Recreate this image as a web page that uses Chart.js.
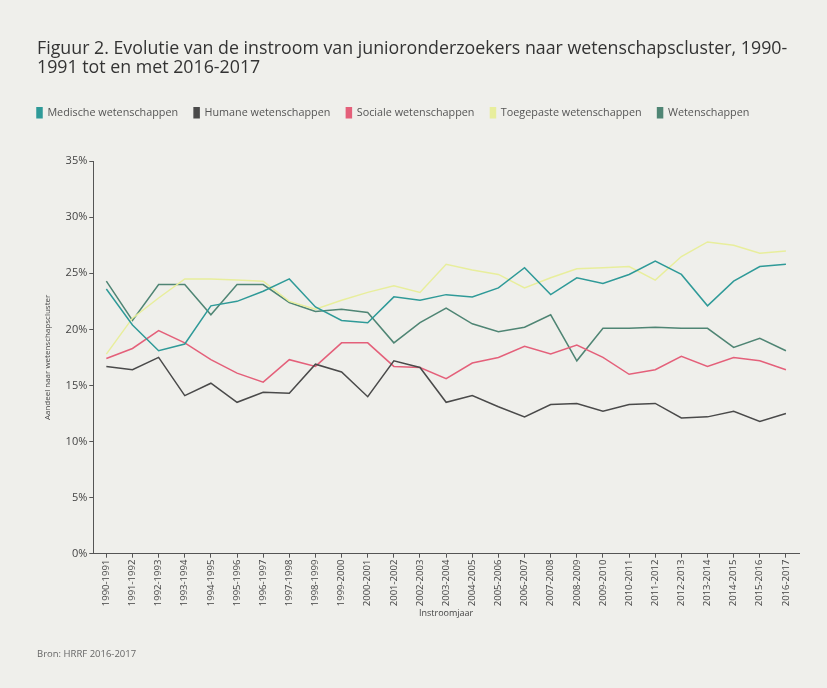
<!DOCTYPE html>
<html>
<head>
<meta charset="utf-8">
<script src="https://cdn.jsdelivr.net/npm/chart.js@4.4.0/dist/chart.umd.min.js"></script>
<style>
  html, body { margin: 0; padding: 0; background: #efefeb; }
  #wrap { position: relative; width: 827px; height: 688px; }
  #source {
    position: absolute; left: 37px; top: 647px;
    font-family: "Open Sans", sans-serif; font-size: 9.5px; color: #666;
  }
</style>
</head>
<body>
<div id="wrap">
  <canvas id="chart" width="827" height="688"></canvas>
  <div id="source">Bron: HRRF 2016-2017</div>
</div>
<script>
// Categories (academic years)
const years = [
  '1990-1991', '1991-1992', '1992-1993', '1993-1994', '1994-1995', '1995-1996',
  '1996-1997', '1997-1998', '1998-1999', '1999-2000', '2000-2001', '2001-2002',
  '2002-2003', '2003-2004', '2004-2005', '2005-2006', '2006-2007', '2007-2008',
  '2008-2009', '2009-2010', '2010-2011', '2011-2012', '2012-2013', '2013-2014',
  '2014-2015', '2015-2016', '2016-2017'
];

// Share per science cluster (%)
const medische = [23.6, 20.4, 18.1, 18.7, 22.1, 22.5, 23.4, 24.5, 22.0, 20.8, 20.6, 22.9, 22.6, 23.1, 22.9, 23.7, 25.5, 23.1, 24.6, 24.1, 24.9, 26.1, 24.9, 22.1, 24.3, 25.6, 25.8];
const humane = [16.7, 16.4, 17.5, 14.1, 15.2, 13.5, 14.4, 14.3, 16.9, 16.2, 14.0, 17.2, 16.6, 13.5, 14.1, 13.1, 12.2, 13.3, 13.4, 12.7, 13.3, 13.4, 12.1, 12.2, 12.7, 11.8, 12.5];
const sociale = [17.4, 18.3, 19.9, 18.8, 17.3, 16.1, 15.3, 17.3, 16.7, 18.8, 18.8, 16.7, 16.6, 15.6, 17.0, 17.5, 18.5, 17.8, 18.6, 17.5, 16.0, 16.4, 17.6, 16.7, 17.5, 17.2, 16.4];
const toegepaste = [17.8, 21.0, 22.8, 24.5, 24.5, 24.4, 24.3, 22.5, 21.8, 22.6, 23.3, 23.9, 23.3, 25.8, 25.3, 24.9, 23.7, 24.6, 25.4, 25.5, 25.6, 24.4, 26.5, 27.8, 27.5, 26.8, 27.0];
const wetenschappen = [24.3, 20.8, 24.0, 24.0, 21.3, 24.0, 24.0, 22.4, 21.6, 21.8, 21.5, 18.8, 20.6, 21.9, 20.5, 19.8, 20.2, 21.3, 17.2, 20.1, 20.1, 20.2, 20.1, 20.1, 18.4, 19.2, 18.1];

// Y axis ticks
const yTicks = [0, 5, 10, 15, 20, 25, 30, 35];

const fontFamily = '"Open Sans", sans-serif';

function makeSet(label, data, color) {
  return {
    label: label,
    data: data,
    borderColor: color,
    backgroundColor: color,
    borderWidth: 1.5,
    pointRadius: 0,
    tension: 0,
    fill: false
  };
}

// move the legend up/left: it sits right under the title, with a gap before the plot
const shiftLegend = {
  id: 'shiftLegend',
  afterLayout(chart) {
    chart.legend.left -= 16;
    chart.legend.top -= 33;
  }
};

const ctx = document.getElementById('chart').getContext('2d');
new Chart(ctx, {
  type: 'line',
  data: {
    labels: years,
    datasets: [
      makeSet('Medische wetenschappen', medische, '#2f9a98'),
      makeSet('Humane wetenschappen', humane, '#4a4a4a'),
      makeSet('Sociale wetenschappen', sociale, '#e4607a'),
      makeSet('Toegepaste wetenschappen', toegepaste, '#e8ee9c'),
      makeSet('Wetenschappen', wetenschappen, '#4f8574')
    ]
  },
  plugins: [shiftLegend],
  options: {
    responsive: false,
    animation: false,
    layout: { padding: { left: 37, right: 28, top: 40, bottom: 69 } },
    plugins: {
      title: {
        display: true,
        align: 'start',
        text: [
          'Figuur 2. Evolutie van de instroom van junioronderzoekers naar wetenschapscluster, 1990-',
          '1991 tot en met 2016-2017'
        ],
        color: '#333',
        font: { family: fontFamily, size: 17.8, weight: 'normal', lineHeight: 1.05 },
        padding: { top: 0, bottom: 47 }
      },
      legend: {
        display: true,
        align: 'start',
        labels: {
          boxWidth: 5,
          boxHeight: 10,
          padding: 16,
          color: '#555',
          font: { family: fontFamily, size: 10.8 }
        }
      },
      tooltip: { enabled: false }
    },
    scales: {
      x: {
        type: 'category',
        offset: true,
        border: { color: '#555', width: 1 },
        grid: { display: true, drawOnChartArea: false, drawTicks: true, tickLength: 4, color: '#555' },
        ticks: {
          maxRotation: 90,
          minRotation: 90,
          autoSkip: false,
          padding: 2,
          color: '#444',
          font: { family: fontFamily, size: 9.5 }
        },
        title: {
          display: true,
          text: 'Instroomjaar',
          color: '#444',
          padding: { top: 0, bottom: 0 },
          font: { family: fontFamily, size: 9 }
        }
      },
      y: {
        min: 0,
        max: 35,
        afterBuildTicks: axis => { axis.ticks = yTicks.map(v => ({ value: v })); },
        border: { color: '#555', width: 1 },
        grid: { display: true, drawOnChartArea: false, drawTicks: true, tickLength: 4, color: '#555' },
        ticks: {
          callback: v => v + '%',
          padding: 2,
          color: '#444',
          font: { family: fontFamily, size: 11 }
        },
        title: {
          display: true,
          text: 'Aandeel naar wetenschapscluster',
          color: '#444',
          padding: { top: 6, bottom: 11 },
          font: { family: fontFamily, size: 8 }
        }
      }
    }
  }
});
</script>
</body>
</html>
